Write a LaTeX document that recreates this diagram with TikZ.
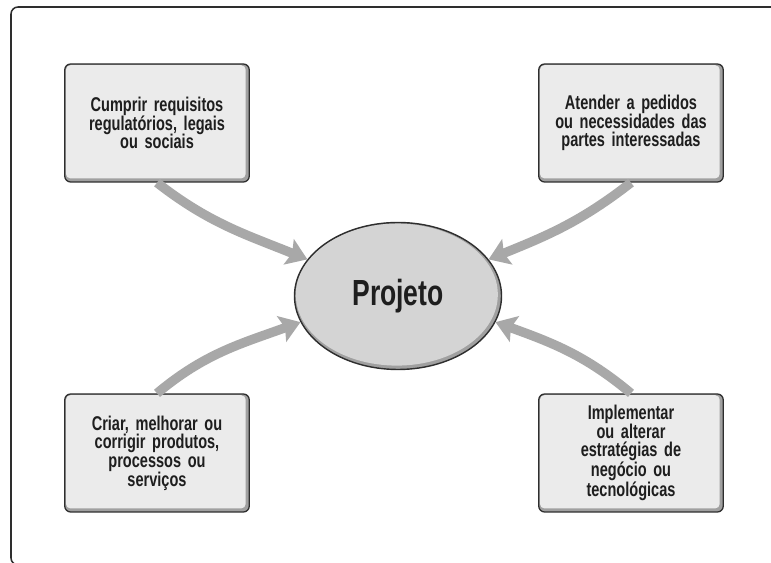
\documentclass[tikz,border=0pt]{standalone}
\usepackage{fontspec}
\setmainfont[FakeStretch=0.73]{Liberation Sans}
\usetikzlibrary{arrows.meta,shapes.geometric}
\definecolor{boxfill}{HTML}{EBEBEB}
\definecolor{boxband}{HTML}{A0A0A0}
\definecolor{ovalfill}{HTML}{D4D4D4}
\definecolor{arrowgray}{HTML}{A8A8A8}
\definecolor{linegray}{HTML}{2E2E2E}
\definecolor{textgray}{HTML}{1E1E1E}
\tikzset{
   reqbox/.style={draw=linegray, line width=1.1pt, rounded corners=5pt, fill=boxband,
      minimum width=5.49cm, minimum height=3.54cm, text width=5.3cm, align=center,
      text=textgray, font=\bfseries\fontsize{17}{16}\selectfont,
      path picture={\fill[boxfill, rounded corners=4pt]
         ([shift={(1pt,-1pt)}]path picture bounding box.north west) rectangle
         ([shift={(-3pt,3pt)}]path picture bounding box.south east);}},
   oval/.style={ellipse, draw=linegray, line width=1.2pt, fill=boxband, inner sep=0pt,
      minimum width=6.21cm, minimum height=4.41cm, text=textgray,
      font=\bfseries\fontsize{31}{32}\selectfont,
      path picture={\fill[ovalfill]
         ([shift={(-1pt,1.2pt)}]path picture bounding box.center)
         ellipse [x radius=3.03cm, y radius=2.13cm];}},
   seta/.style={draw=arrowgray, line width=8pt,
      -{Stealth[length=17pt, width=23pt, inset=3pt]}}
}
\begin{document}
\begin{tikzpicture}[x=0.03cm, y=0.03cm]

		% Page
		\useasboundingbox (0,0) rectangle (771,563);
		\clip (0,0) rectangle (771,563);
		\fill[white] (0,0) rectangle (771,563);
		\draw[linegray, line width=1.3pt, rounded corners=6pt] (11,-2) rectangle (800,556);

		% Center
		\node[oval] (projeto) at (398,267) {Projeto};

		% Boxes
		\node[reqbox] (cumprir) at (157,440) {Cumprir requisitos\\regulatórios, legais\\ou sociais};
		\node[reqbox] (atender) at (631,440) {Atender a pedidos\\ou necessidades das\\partes interessadas};
		\node[reqbox] (criar) at (157,110) {Criar, melhorar ou\\corrigir produtos,\\processos ou\\serviços};
		\node[reqbox] (implementar) at (631,110) {Implementar\\ou alterar\\estratégias de\\negócio ou\\tecnológicas};

		% Arrows
		\draw[seta] (cumprir.south) to[out=-38, in=158] (projeto.158);
		\draw[seta] (atender.south) to[out=-142, in=22] (projeto.22);
		\draw[seta] (criar.north) to[out=40, in=-160] (projeto.195);
		\draw[seta] (implementar.north) to[out=140, in=-20] (projeto.345);
	\end{tikzpicture}
\end{document}
